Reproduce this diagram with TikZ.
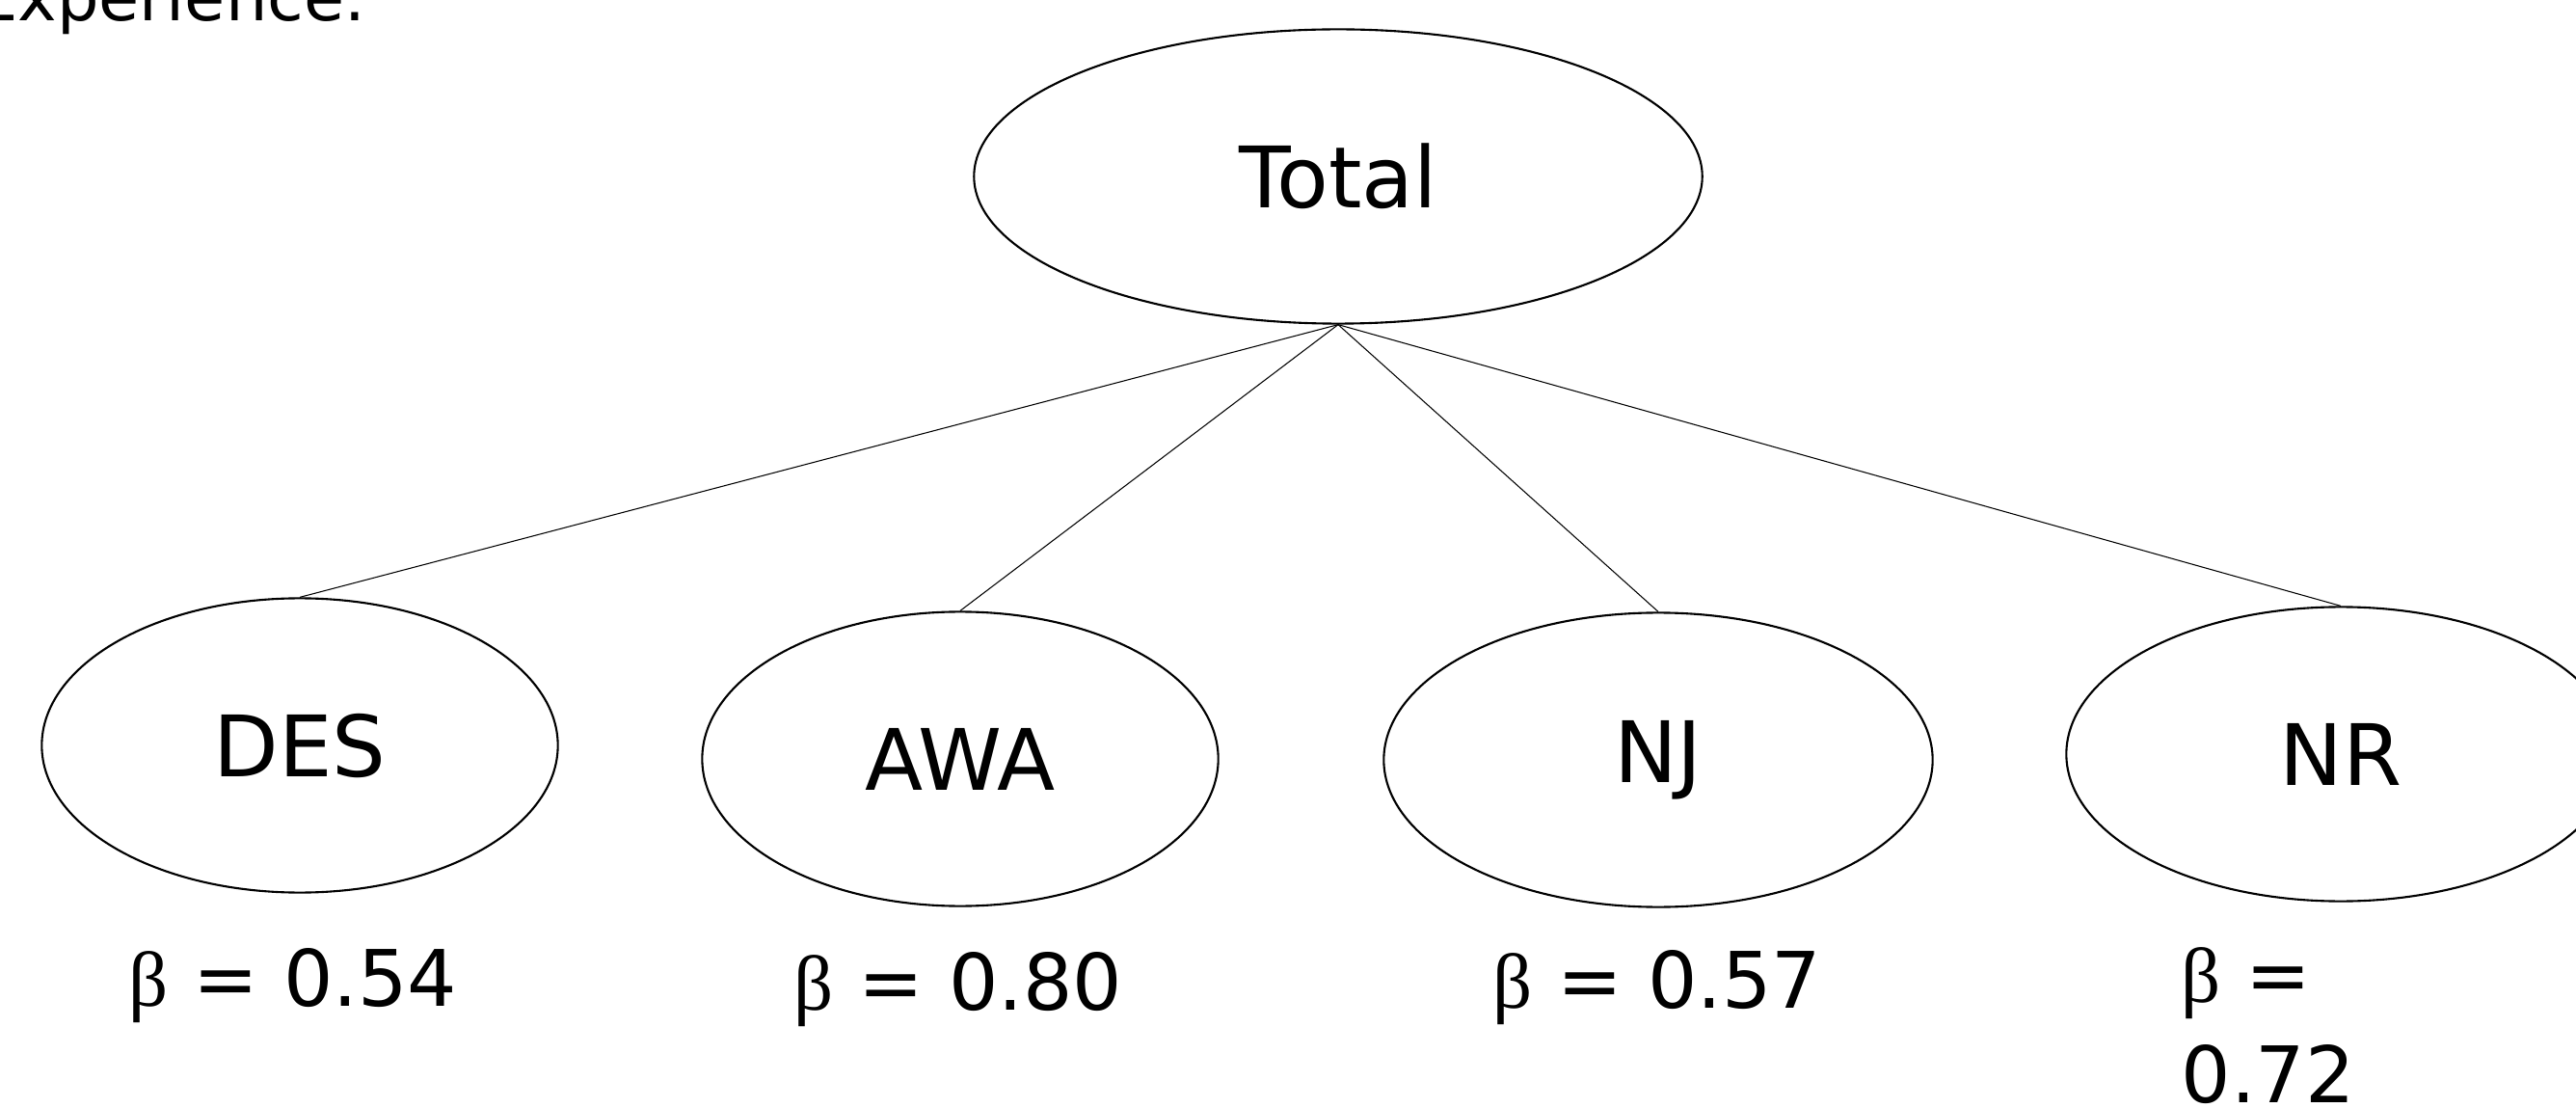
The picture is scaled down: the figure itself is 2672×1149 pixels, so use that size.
\documentclass[tikz,border=0pt]{standalone}
\usepackage{fontspec}
\setmainfont{DejaVu Sans}
\newfontfamily\greekfont{Liberation Serif}
\usetikzlibrary{shapes.geometric}

\tikzset{
  factor/.style={ellipse, draw, line width=0.6pt, inner sep=0pt,
    minimum height=3.05cm, font=\fontsize{25}{30}\selectfont},
  coef/.style={inner sep=0pt, font=\fontsize{23}{29.6}\selectfont},
  link/.style={line width=0.3pt}
}

\begin{document}
\begin{tikzpicture}[x=0.01cm, y=-0.01cm]
  \clip (0,0) rectangle (2672,1149);

  % caption left over from the slide, cut at the top
  \node[anchor=base east, inner sep=0pt, font=\fontsize{19.5}{24}\selectfont] (caption) at (380,22) {Experience.};

  % the factors
  \node[factor, minimum width=7.55cm] (total) at (1388,183) {Total};
  \node[factor, minimum width=5.35cm] (des) at (311,773) {DES};
  \node[factor, minimum width=5.35cm] (awa) at (996,787) {AWA};
  \node[factor, minimum width=5.69cm] (nj) at (1720,788) {NJ};
  \node[factor, minimum width=5.69cm] (nr) at (2428,782) {NR};

  % loadings
  \foreach \n in {des,awa,nj,nr}
    \draw[link] (total.south) -- (\n.north);

  \node[coef, anchor=base] (bdes) at (304,1043) {{\greekfont β} = 0.54};
  \node[coef, anchor=base] (bawa) at (994,1047) {{\greekfont β} = 0.80};
  \node[coef, anchor=base] (bnj) at (1719,1045) {{\greekfont β} = 0.57};
  \node[coef, anchor=north west, align=left] (bnr) at (2262,982) {{\greekfont β} =\\0.72};
\end{tikzpicture}
\end{document}
